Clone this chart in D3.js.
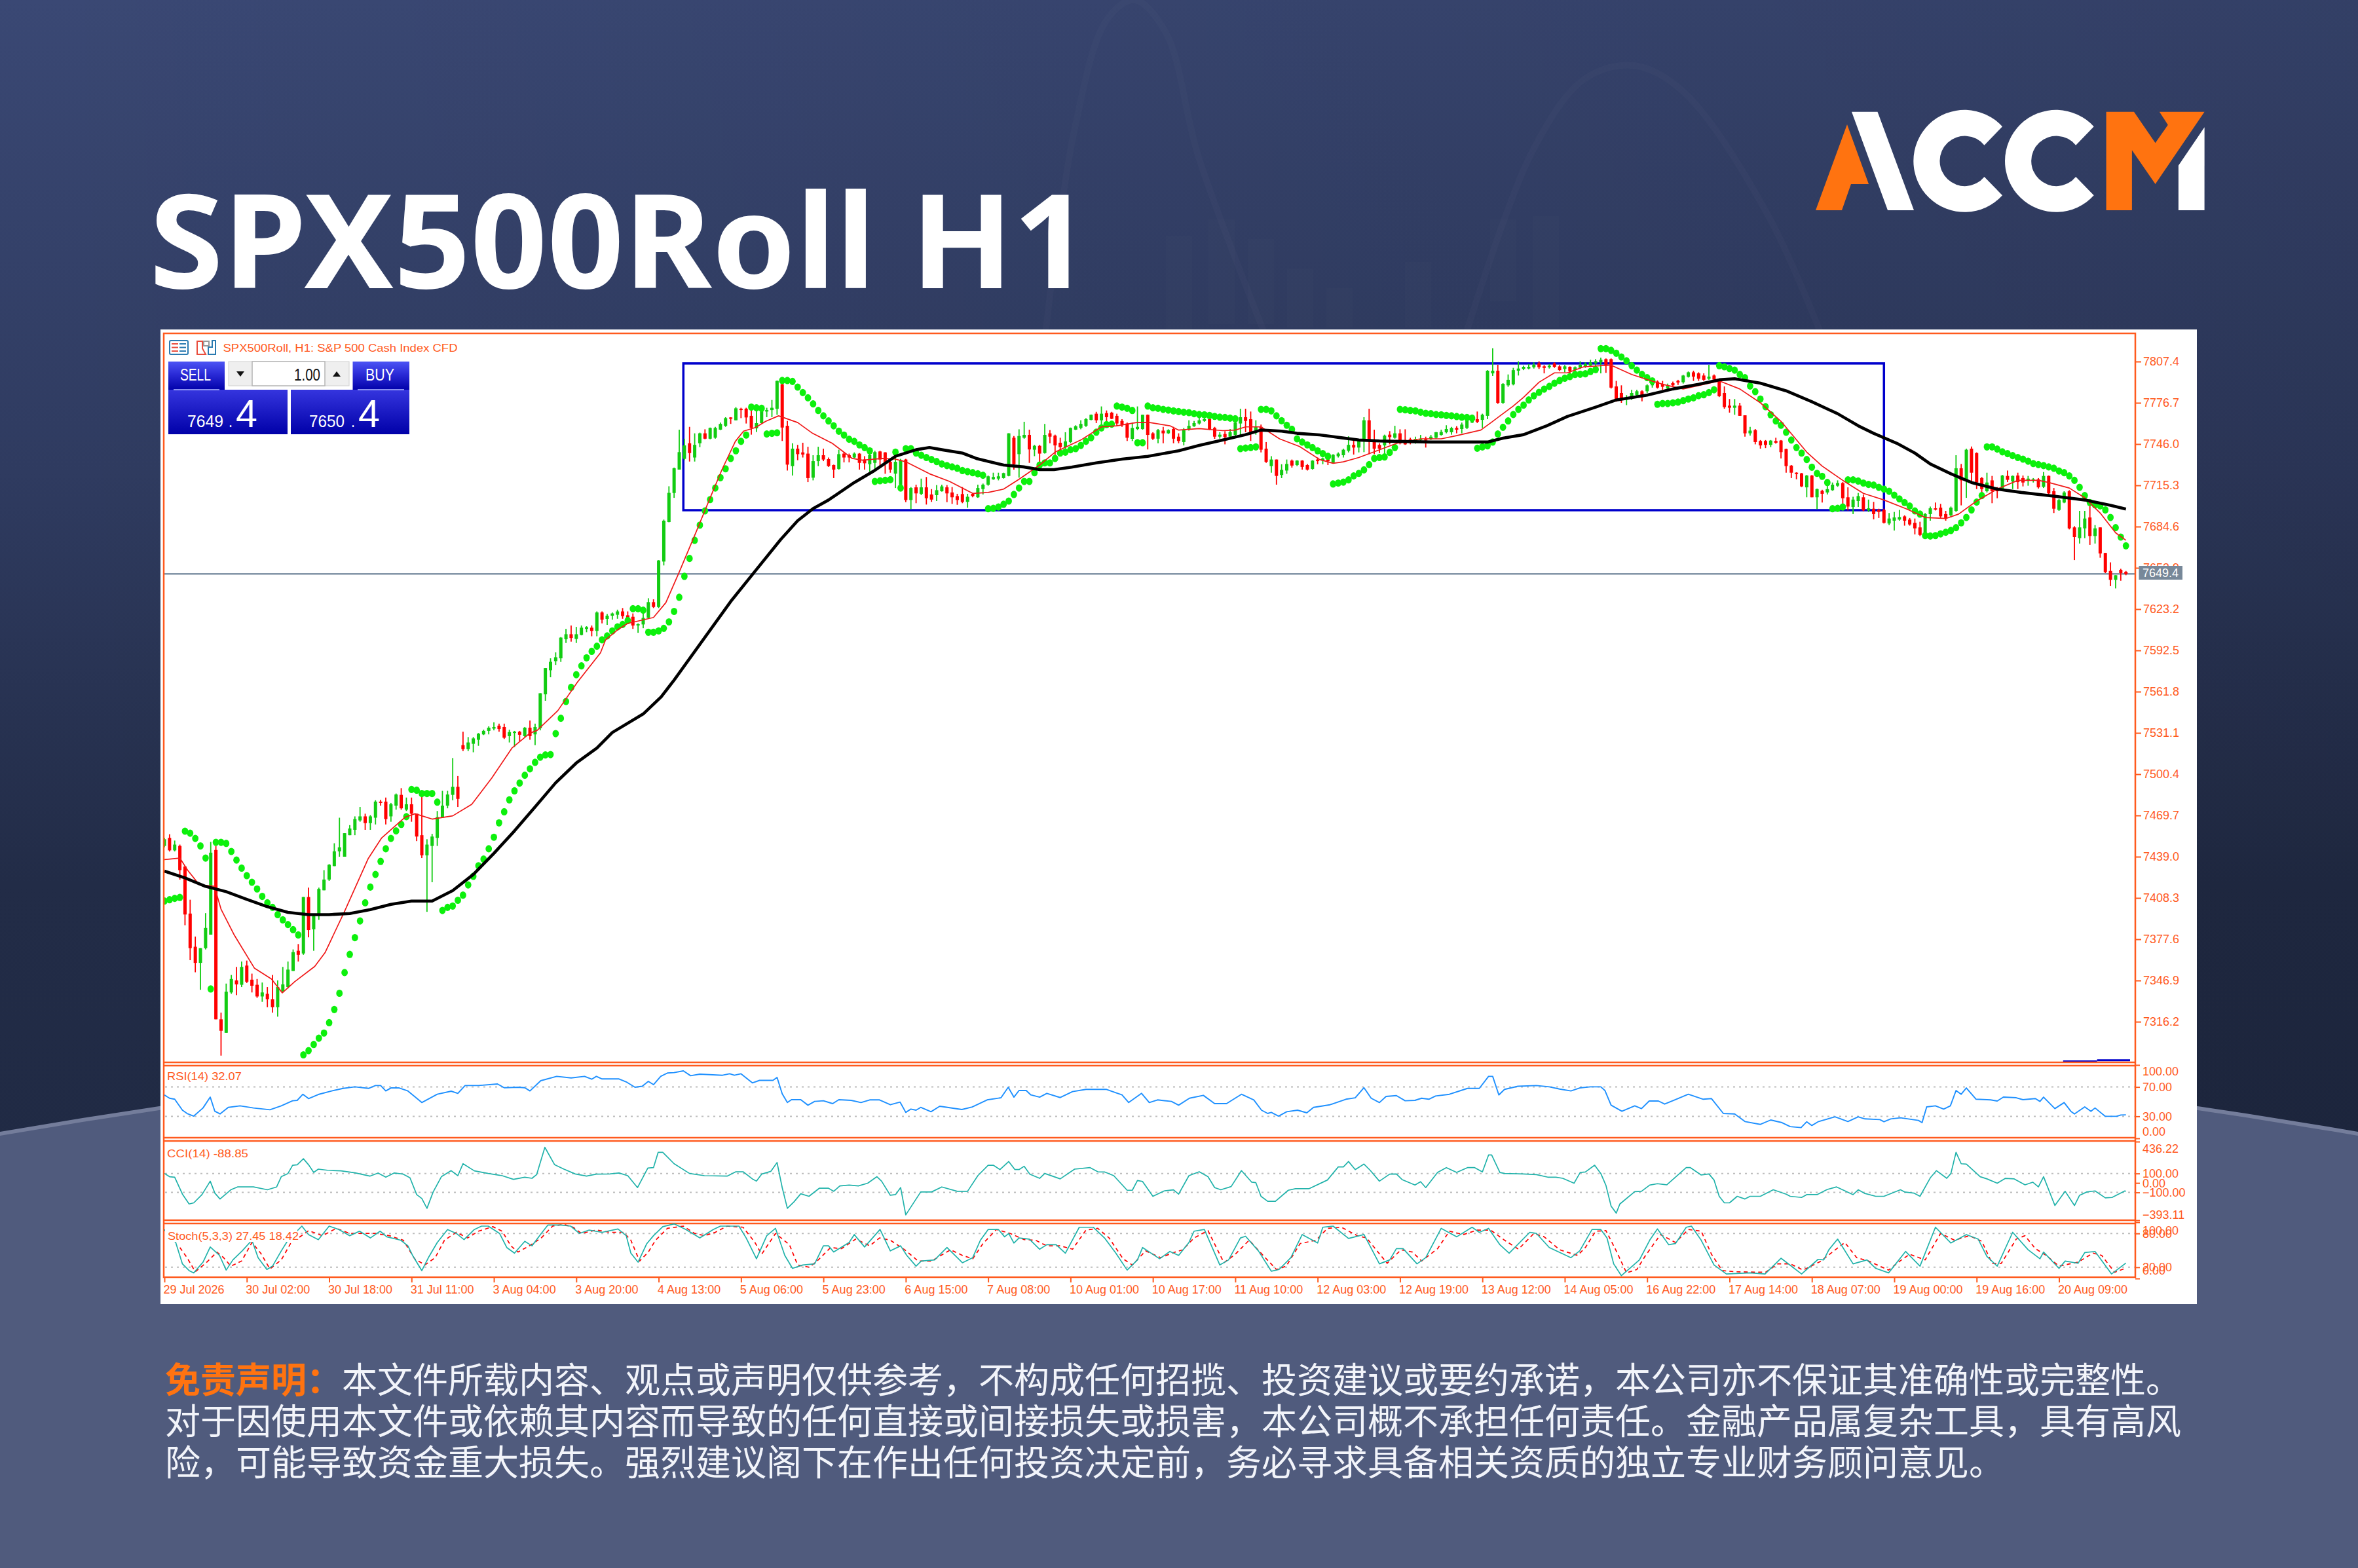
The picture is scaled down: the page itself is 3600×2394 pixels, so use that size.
<!DOCTYPE html>
<html>
<head>
<meta charset="utf-8">
<script src="https://cdn.jsdelivr.net/npm/d3@7"></script>
<style>
html, body { margin: 0; padding: 0; background: #2b3556; }
svg { display: block; }
text { font-family: "Liberation Sans", sans-serif; }
.domain { display: none; }
</style>
</head>
<body>
<svg id="chart" width="3600" height="2394"></svg>
<script>
// candles, one value per hour bar
var opens = [
7447,7453,7443.7,7447,7431.7,7396.7,7372,7360,7371,7381,
7444,7318,7308,7338,7347,7343.7,7358,7347.5,7343.7,7335,
7337,7333,7327,7339,7342,7354,7369,7367,7409,7385,
7395,7414,7422,7432,7443,7439,7455,7459,7466,7469,
7464,7468,7480,7480,7469,7477,7485,7474,7478,7471,
7455,7440,7447,7453,7468,7477,7485,7491,7522,7519,
7523,7526,7530,7532.6,7534.3,7536.5,7535.5,7528.7,7531.5,7532,
7528.7,7535,7530,7534.6,7559.8,7577.7,7584.5,7586.6,7600.8,7604.5,
7601,7604,7608.5,7609.4,7607,7620.7,7615.9,7618.3,7619,7621.5,
7618.6,7617.5,7611.5,7611.8,7616.7,7628.4,7624.8,7658.6,7688,7709.6,
7727,7735,7746.6,7736,7746.6,7754,7750,7750.7,7756.7,7759.6,
7765.8,7763.7,7772.3,7772.3,7767,7757.7,7761.6,7770.2,7771.3,7772.3,
7790.5,7759.6,7729.6,7742.6,7739.8,7738.9,7721,7733.3,7737.7,7734.8,
7730.4,7727.5,7738.9,7737.7,7736,7738.9,7734.5,7731,7732,7740.5,
7739.8,7732.8,7724,7715.8,7734.5,7704.4,7713.8,7709,7713.8,7708.5,
7708,7710.9,7713.8,7710,7707.3,7708.8,7703,7709,7706.4,7712.5,
7715.8,7719.8,7720.3,7720.7,7722.3,7750.7,7738.5,7750.7,7752.8,7741.8,
7744.7,7739.3,7754,7752.3,7747,7743.7,7747.5,7756.7,7758,7759.6,
7764,7768.6,7763.7,7769,7769.4,7767,7763.2,7761.3,7749.9,7757.2,
7757.2,7767.8,7754,7750,7756,7754,7757.2,7751.5,7747.5,7757.2,
7759.3,7761.3,7763.2,7764.7,7758,7751.5,7753.5,7751.5,7752.8,7761.3,
7766,7764.5,7756,7758.8,7742.6,7729.6,7734.5,7723,7726.3,7733.7,
7730.4,7733.7,7730.4,7727.5,7734.5,7733.7,7735.6,7732,7737,7737.7,
7741,7745.4,7743.4,7749,7763.7,7749,7745.4,7745,7753,7750.7,
7754,7749,7749.6,7748,7749,7749.6,7749.6,7750.7,7752.8,7754.8,
7754.8,7758,7757.2,7758,7762,7764.5,7764,7767,7798.6,7800.6,
7776.7,7789.7,7790.5,7800.6,7801.9,7802.2,7803.2,7806,7803.8,7803.2,
7806,7803.8,7801.9,7803.5,7801,7802.7,7803.5,7804.3,7806,7806.8,
7809.2,7809.2,7788.9,7784,7779,7780,7782.4,7785.3,7785.3,7789.7,
7792.5,7790.8,7787.3,7791.3,7793,7792,7796,7799.4,7798.6,7797,
7794.6,7797,7794.6,7784,7774.6,7773,7774.6,7767.4,7754,7756.4,
7748.3,7748.3,7745.4,7748.3,7748.6,7742.3,7730,7724.7,7724.2,7713.8,
7722.6,7706.4,7711.2,7710,7711.7,7715,7717,7706.4,7699.2,7703.6,
7706.4,7696.6,7697.9,7697,7697,7686.9,7689,7689.8,7692.2,7689.8,
7687.4,7684,7678.4,7693.9,7698.2,7698.7,7693.9,7693,7696.3,7728,
7719,7742.6,7739.3,7720.7,7710.9,7719,7712.5,7712.5,7722.3,7718.2,
7722.6,7720.7,7718.7,7719,7719.8,7714.2,7722.3,7710.9,7697,7702.5,
7710.9,7684,7676,7683.3,7691.4,7677.6,7684,7665,7651.6,7645,7652.4,7651];
var highs = [
7453,7455.7,7451,7448,7432,7407,7379.6,7371,7397,7450,
7447,7323,7344.6,7351,7357,7361,7361.7,7352,7348,7345.4,
7342,7351,7347,7357,7361,7370,7374,7409,7416,7395,
7416,7429,7433.5,7449,7468,7456.5,7462.5,7469,7476,7471,
7470,7481,7481.3,7483,7479,7486,7490,7483,7483,7471,
7484,7452,7456,7473,7488,7488,7512.4,7499,7532,7528,
7528,7531,7533.5,7536,7539,7538,7538,7533.5,7532.6,7532.6,
7535.5,7540.3,7538,7560.6,7579.3,7586.6,7591,7602.4,7608.5,7611,
7610,7611,7610.5,7611,7621.5,7621.5,7619.6,7620.7,7622.8,7624,
7621.5,7620,7612.6,7624,7631.3,7630.5,7659.7,7689.8,7714.6,7728.5,
7756.7,7750,7758.8,7754,7754.5,7757,7758.3,7758.8,7762,7766,
7766,7773.5,7773,7773,7774,7774.6,7774.6,7773,7778.8,7793.3,
7791.3,7763.2,7746.6,7745.4,7747,7744,7737.7,7744,7742.6,7736,
7730.7,7741.8,7740,7738.9,7739.8,7739.3,7737,7739.3,7741,7741,
7740,7735,7737.7,7735,7735,7714,7715.8,7720.3,7721.5,7712.5,
7715.5,7715.8,7715.5,7714,7709,7714,7709,7709.3,7715.8,7716.6,
7722.6,7724.7,7724.7,7724.7,7754,7752,7757,7762.6,7756.7,7745.4,
7745.4,7761,7756.4,7753,7750.7,7754.8,7758.3,7760,7763.7,7765.3,
7768,7770,7774,7771,7770,7768.6,7764.5,7762,7762,7774,
7767.8,7768,7754.8,7757.2,7758.8,7757,7758.8,7754,7758,7763.7,
7763.2,7767,7767.8,7764.8,7758.8,7754.8,7755.6,7757.2,7766,7772.3,
7772.3,7770.2,7763.7,7760.5,7747.5,7737,7734.5,7731,7734.5,7734.5,
7734,7734,7731.2,7734,7736,7736,7737,7738.5,7739.8,7742.6,
7751.8,7749,7749.6,7766,7772.3,7756.7,7746.6,7753,7755.6,7759.6,
7757,7757,7750.7,7751.5,7752.8,7751.5,7752.8,7755,7756.7,7760,
7758.8,7759.3,7762,7764.8,7767.8,7770.2,7768.6,7801,7817.3,7805,
7791.3,7797.8,7802.7,7807.6,7804.3,7805.5,7806.8,7807.6,7804.8,7805.5,
7806.8,7804.8,7804.8,7803.8,7803.8,7807.6,7806.8,7808.7,7809.2,7810.3,
7809.7,7809.7,7793,7789.7,7782.4,7786.4,7786.4,7786,7790.5,7793.4,
7793.4,7793,7791,7792.5,7793.8,7797.5,7800,7800.6,7799.4,7798.6,
7805,7797.8,7794.6,7788.9,7779.5,7779.5,7776.7,7767.4,7758.8,7757.2,
7749,7749,7749,7750.7,7749,7742.6,7730.4,7725,7724.5,7723,
7723,7712.9,7712,7719,7717.4,7719,7717.7,7713.8,7706.8,7709.6,
7708.5,7704.7,7703,7697.9,7697.9,7694.7,7695.5,7697,7693,7691,
7690.6,7688.2,7694.7,7699.5,7702.5,7701.5,7696.3,7699.5,7737.7,7731.2,
7742.6,7744.2,7739.8,7721.5,7724.7,7722.3,7714,7723,7726.3,7722.6,
7724.7,7722.6,7722.3,7720.7,7720.7,7725.2,7722.6,7713.3,7705.2,7710.9,
7711.7,7684.9,7696.3,7696.3,7702,7685.7,7684,7665,7658,7648.4,7653.2,7651.6];
var lows = [
7446,7442.9,7443,7422,7388,7362,7353,7340,7370,7381,
7318,7291,7308,7337,7336,7342,7345,7338,7334,7331,
7327,7323,7320,7338,7341,7354,7361,7366,7379,7369,
7392,7414,7421,7432,7439,7439,7455,7455,7465,7459,
7459,7463,7477,7463,7465,7474,7474,7473,7465,7450.6,
7438,7398,7420,7447,7468,7475,7481,7476,7517.6,7517.6,
7516.7,7521.5,7529.5,7530,7533,7532,7526.6,7524,7520.6,7525,
7528,7526,7522,7533,7555,7572.5,7581.7,7583.9,7598,7599,
7598,7603.7,7606,7603,7603,7612.6,7611.5,7615.4,7616,7616,
7612.6,7608.5,7605.6,7609,7615.9,7624,7624,7655.7,7687.8,7706,
7727,7734,7733,7733,7743.7,7749.6,7749.6,7750,7756.4,7758.8,
7761,7763.7,7765.3,7761.3,7753,7755,7761.3,7766,7766,7767.8,
7748.3,7726.3,7722.6,7734,7736,7717.7,7719,7729.6,7733.3,7729,
7720.7,7727,7732.4,7732.4,7735.6,7727,7727,7725.5,7727,7729.6,
7723.9,7724.7,7713.3,7710.9,7702.8,7697.6,7702,7708,7701,7703,
7703.6,7710.6,7702.8,7701.5,7700.8,7702,7698.7,7706.4,7706,7708.5,
7715,7719.4,7719,7720.3,7722,7727,7721,7750,7732,7737,
7732,7738.9,7746.6,7737,7738.5,7741.8,7746.6,7756.4,7757,7758.8,
7763.7,7761.6,7758,7762.9,7764.5,7759.6,7758.8,7748.3,7748.3,7756.4,
7756.7,7742,7749,7746.6,7746.6,7753.5,7746.6,7746.6,7745,7756,
7758.8,7760.5,7762.6,7756.4,7749.9,7750,7745.8,7750.7,7752.3,7752.3,
7754.8,7748.3,7753,7739.8,7732,7724.7,7715.8,7720.7,7723.9,7728.5,
7729.6,7727,7726.3,7727,7731,7731,7730.4,7731.7,7736,7736,
7739.8,7738.2,7739.8,7740,7738.5,7738.5,7739.3,7738.5,7745.8,7750,
7745.8,7745.4,7745.8,7746.3,7748.3,7743.4,7749,7750,7752.3,7754,
7753,7754,7754,7757.2,7761.6,7761.6,7758,7764.5,7796.7,7775.9,
7775.9,7788.6,7789.7,7797,7801,7801.6,7802.2,7801.9,7798.6,7802.2,
7802.7,7800.3,7799.4,7798.6,7798.6,7801.9,7802.7,7803.5,7803.5,7798.6,
7799,7787.3,7777.5,7776.7,7775,7778.8,7780.8,7777.8,7784,7788,
7787.3,7786.4,7786,7788.5,7790,7791,7795.5,7793,7793,7793,
7793.8,7792,7781,7772.3,7769.4,7767.8,7767,7751.5,7752.3,7745.8,
7742.6,7743,7743.7,7746.3,7735.3,7724.7,7720.7,7719.8,7714,7706.4,
7706.4,7697.6,7702.5,7708.5,7711.2,7714.2,7697.9,7696.6,7693.9,7699.2,
7696,7695.5,7690,7691,7686.9,7685.7,7681.7,7689,7685.3,7685.3,
7678.8,7677.6,7677.6,7689,7696.6,7690.6,7689,7691.4,7695.5,7700.4,
7706,7716.6,7712.5,7709.3,7710,7702,7705.7,7711.7,7717.7,7712.5,
7712.5,7714.5,7715,7717.4,7712.9,7713.3,7708.5,7694.7,7696.3,7702,
7682.5,7659.7,7672,7676,7671,7672,7661.4,7650,7640.3,7638.6,7644.3,7648.4];
var closes = [
7452,7443.7,7448,7429,7396,7371,7360,7371,7386,7442,
7318,7309.5,7338.6,7348,7344,7357,7346,7343,7335,7338,
7333,7327,7342,7344,7355,7368,7366,7409,7384.4,7395,
7415,7422,7433,7443,7446,7456.5,7460,7467,7469,7464,
7469,7480,7479,7467,7478,7485.3,7475,7478,7471,7454,
7440,7448,7454,7468.5,7477,7485.3,7491,7482,7519,7524,
7527,7530.5,7532.6,7535,7535.5,7534,7527.5,7531.7,7532,7529.7,
7535,7528.7,7535.5,7560.6,7579.3,7584,7587.4,7602,7604.5,7601.7,
7604.5,7609.4,7609.8,7607,7620.7,7615.4,7618.3,7620,7621.5,7618,
7616.7,7611,7612,7616.7,7628.4,7624.8,7659.4,7689,7709.7,7728,
7740,7745,7739.3,7745.4,7754,7750,7758,7758,7761,7765.3,
7764.8,7772.6,7771.3,7765.8,7758,7761.6,7774,7771.3,7773,7793,
7758.3,7730.7,7742.6,7738.5,7738.2,7720.7,7733.3,7737.7,7734.5,7729.6,
7727,7738.5,7736,7736,7738.9,7732,7731.7,7738,7740,7734.5,
7732,7727,7732.8,7734,7704.4,7713.3,7709.3,7713.8,7705.7,7704.7,
7711.7,7714.5,7709.3,7706.4,7704.4,7703,7706.8,7707.3,7713.3,7715.8,
7722,7721.5,7722,7724.4,7754,7731,7752,7752.8,7742,7744.7,
7738.9,7752.8,7751.5,7745,7743.7,7748,7758,7759.3,7761,7764.5,
7767.8,7763.7,7768.6,7766,7764.8,7761.3,7760.5,7750.7,7758,7758.8,
7767.8,7752.8,7750,7756.4,7754,7756.4,7750,7748.3,7756.4,7759.6,
7761.6,7763.7,7764.5,7756.7,7751.5,7753,7751.2,7754.8,7762,7766,
7763.2,7754,7758.8,7741.8,7732.8,7734.5,7722.3,7726.8,7731.2,7730,
7733.7,7729,7727,7733.7,7733.3,7735.3,7733.3,7738,7738.9,7741.8,
7745.4,7743.4,7749,7763.7,7748.3,7742.6,7742.6,7752.3,7751.2,7754,
7746.6,7745.8,7748,7749.9,7749.9,7748.6,7751.5,7754.8,7755,7757.2,
7758,7756.7,7760.5,7764.5,7765.3,7762.6,7767.8,7800.6,7800.6,7776.7,
7790.8,7793.8,7801,7802.2,7803.5,7803.5,7805,7803.2,7802.7,7804.3,
7803.5,7801,7803.8,7800.3,7803.2,7805,7805.5,7806.8,7807.6,7808.7,
7804.3,7788,7779,7779,7780.4,7784,7785.3,7780.8,7789.7,7793,
7788,7788.6,7789.7,7789.7,7791.8,7797,7799.4,7796.2,7794.6,7793.8,
7796.2,7794,7781.6,7773.5,7773,7774.6,7767,7754,7756,7747.5,
7745,7745.4,7748.6,7747,7740,7729.6,7724.7,7723.9,7714.5,7722.6,
7706.4,7712.5,7709,7712.5,7715.8,7717,7705.7,7699.5,7704.7,7707.3,
7696.6,7698.2,7693.9,7695.5,7687.4,7690.6,7691.4,7691.7,7689,7686.2,
7683.3,7678.4,7693.9,7698.2,7697.6,7692.2,7691,7698.7,7728,7719,
7741.8,7724.7,7717.4,7712.5,7717.4,7710.9,7710.9,7722.6,7719.4,7722.3,
7717.7,7717.4,7720.3,7719.8,7713.8,7722.3,7709.3,7697.9,7704.4,7710,
7683.3,7676.8,7684,7690.6,7677.6,7683.3,7664.6,7650.8,7645,7648.4,7650,7649.4];

// parabolic sar, one dot per bar
var sar = [
7406,7407,7408,7408.7,7458,7456.5,7452.6,7447,7438,7340.6,
7449.7,7449.7,7448.9,7442.9,7436.5,7430.5,7424.9,7420,7415,7409.5,
7404.7,7401.3,7395.9,7392,7388.5,7384.7,7380.8,7291.6,7294.7,7299.3,
7304,7307.8,7315.5,7325.3,7337.4,7352.8,7366.3,7378.8,7391.2,7404.7,
7416.4,7425.8,7435.5,7444.9,7452.6,7458.2,7463,7468.8,7489,7488.5,
7486,7486,7486,7479.6,7399,7401.3,7402.3,7406.6,7410.4,7418,
7424.4,7432.3,7437.2,7444.9,7453.5,7464.2,7472.4,7481.3,7488,7493.8,
7499.6,7504.4,7509.2,7513,7514.7,7515,7530.6,7542,7554.5,7565,
7574.4,7581,7587,7591.8,7595.6,7600.4,7603.3,7607,7610,7611.8,
7614.7,7623.5,7623.5,7622.4,7606,7606,7607,7608.9,7613.7,7621.5,
7632,7647.6,7660.9,7674.4,7685.7,7696.3,7704.7,7713.3,7721,7727.6,
7735.3,7741,7748,7752.7,7773.5,7773,7772.6,7753.5,7754,7754.4,
7793.3,7793.3,7792.6,7788.4,7784.3,7780.4,7775.9,7771,7767,7763.2,
7759.6,7755.6,7752.7,7749.6,7748,7745.4,7743.4,7741,7718.2,7718.7,
7719,7719.5,7740,7713.3,7742.6,7742.6,7739.3,7737.7,7736,7734.5,
7733,7731.2,7730,7729,7728,7726.3,7725.5,7724.7,7723.9,7722.8,
7697.9,7698.2,7699.2,7701.2,7703.6,7708.5,7713.3,7718.2,7718.2,7724.7,
7730.4,7732,7732,7735.3,7739.3,7740,7741.8,7742.6,7745,7748,
7750.7,7754.8,7758,7760.5,7760.8,7774.3,7773.5,7772.6,7771,7747,
7747,7774.3,7773,7772.6,7771.8,7771.3,7770.7,7770.2,7769.7,7769.4,
7768.6,7768,7767.8,7767.3,7766.6,7766,7765.8,7765.3,7764.8,7742.6,
7743,7743.4,7743.9,7771.8,7771.8,7770.7,7767,7763.4,7760,7757,
7749.9,7747.5,7745.4,7743.4,7741,7738.9,7736.9,7716.3,7717,7717.7,
7719.4,7722.3,7724.2,7726.8,7730.7,7735.3,7736,7736.4,7739.8,7743.4,
7771.8,7771.5,7771,7770.7,7769.7,7768.9,7768.6,7768,7767.8,7767.3,
7767,7766.5,7766,7765.8,7765.3,7742.9,7743.9,7744.7,7747.5,7753.5,
7758.5,7763.2,7768,7771.8,7775,7778.8,7781.9,7784.5,7786.9,7788.9,
7791.3,7793.3,7795,7796.2,7797.8,7798,7798.3,7800,7801.4,7817,
7817,7815.7,7813.6,7810.8,7807.9,7804.3,7801,7797.8,7795.4,7793,
7775.6,7776.2,7776.2,7776.7,7777.2,7778.3,7779.5,7780.4,7782,7782.7,
7784.3,7786.4,7804.3,7803.5,7802.2,7801,7797.8,7795.4,7789.2,7785,
7779.5,7773.8,7767.8,7763.2,7760,7754.8,7749,7743.4,7739.3,7734.5,
7728.8,7724.2,7722,7717.4,7697.9,7698.2,7699.2,7719.4,7719.4,7718.5,
7717,7716,7715.5,7713.8,7712.5,7710.9,7708,7705.2,7702.5,7699.9,
7696.3,7693.9,7677.9,7677.6,7677.9,7679.2,7680.4,7681.7,7683.8,7687.4,
7691.4,7697,7702.8,7707.7,7743.9,7743.9,7742.3,7740.2,7738.9,7737.4,
7736,7734.8,7733.3,7731.5,7730.7,7730,7729,7728,7726,7724.7,
7722.3,7719,7713.8,7707.7,7702.5,7700.8,7700,7697,7691.4,7683.8,7676.8,7670.3];

// slow moving average, read at these bars
var maBars = [0,4,8,12,16,20,24,28,32,36,40,44,48,52,56,60,64,68,72,76,80,84,87,93,96.5,99,110,114.6,119.7,123,126,129,134,137.6,142,146,148.6,151,155,157.7,163,166.9,170,172.8,176.2,181,186,191,197,201,205.6,210,213,217,220,224.4,228.6,232,236,239.4,246,257,260,264,268.5,272.5,278,282,288,293,298,302,305,310,315,320,325,329,332,336.5,340,343,347,351,356,360.7,367,373,378,381];
var maValues = [7428.3,7423.2,7416.9,7413,7407.3,7401.8,7397.6,7395.9,7395.9,7396.7,7399.6,7403.5,7406,7406,7413.8,7425.8,7441.5,7458.2,7476,7494,7508.7,7519.8,7531.4,7545.2,7558,7570.4,7628.9,7650.8,7675,7689,7698,7704.4,7717.4,7725.5,7736.9,7741.8,7743.4,7741.8,7739.3,7735.3,7730.4,7729,7727,7727,7728.8,7732,7734.8,7736.9,7741,7745,7749,7753,7756.4,7755.6,7754,7752.8,7750.7,7749,7748.3,7748,7747.5,7747.5,7750.4,7753,7759.6,7766.5,7773.5,7778.8,7782.4,7787,7790.5,7793.8,7794.6,7791.3,7785.6,7777.5,7768.6,7759.6,7754,7746.6,7739.3,7731.2,7723.9,7717.4,7712.5,7710,7707.3,7704.4,7700.4,7697.6];

// fast moving average, read at these bars
var fastBars = [0,3,4.5,6.8,9.7,11,13.6,17.5,20.8,22.9,25.3,29.2,31.2,35,39.6,42.2,46.8,48.7,52,56,59.7,63.6,67.5,71,72.4,76.4,80.2,84.7,85.7,88,90,91.3,95,97.4,100,103.4,106,108.3,110.9,112.5,114.8,116.8,119.3,123,125.9,129.7,133.6,135.6,139.5,142,144,148.6,152.5,157,160,163,166,170,173,178,182,185,188.8,191.4,195.3,197,201,205.6,208,210,213,216.6,220.5,224.4,227,229,232,235.5,239.4,244,248,251,255.7,258,262,264,267,270,272.5,275.7,280.9,285,288,291,295,302,306,310,314,319,322,326,330,334,338.3,342,346,348.5,352,356,360,364,366,370,373,376,379,381];
var fastValues = [7436.9,7438,7429,7418,7417,7400,7380.5,7356,7348,7337.7,7346,7357.4,7367.6,7398.4,7437.7,7453,7468.5,7471,7467,7469.4,7478,7497.6,7519.8,7530.9,7533,7547.6,7568.7,7590.7,7600.4,7607.7,7612.6,7613.7,7617,7628,7650.8,7681.7,7706,7727,7748,7755.6,7758.3,7762.9,7767,7762,7754,7746.6,7735.3,7734,7735.3,7734.8,7732.8,7723.9,7718.2,7709.3,7710,7712.5,7719.8,7730.4,7740,7749,7758.8,7759.6,7762,7762,7759.6,7756.4,7757.5,7756,7756.4,7758.8,7758.8,7749.9,7744.2,7734.5,7731.7,7732.8,7736,7741,7746.6,7749.9,7749.9,7752.3,7756.4,7762.9,7774.3,7780.8,7792,7799,7799,7803.5,7804.8,7797.8,7794,7790.5,7787,7793,7787,7776.7,7762.9,7740,7729.6,7719,7709.3,7704.4,7697.9,7691.4,7690.6,7693.9,7703.6,7712.5,7719,7719,7717.4,7713.3,7706,7694.7,7680,7674.4];

// rsi(14)
var rsiBars = [0,1,2,3.5,4.4,5.7,7.5,8.9,9.8,10.8,12.4,14.7,17.3,20.5,22.7,24.9,25.8,26.9,28,29.9,32.5,34.7,37,39.7,41,42,43,44,45.6,47.3,50,53,55.7,57,58.4,61,64.7,66,68.7,70,71,73.1,76.2,79,81.6,83,83.9,85,88.3,89.7,91.4,92.8,94,95,96.4,97.7,99,100.8,102.2,104,108.4,109.8,110.7,112,114.2,115.6,118.2,119,120,121,121.8,123.6,125,126.3,128,129.8,131,133.4,135.3,137,138.9,141,142.9,144,145,146,146.9,148.9,150.6,154.9,156.9,159.8,162.5,163.9,165,166,167.4,168.3,170,171.4,174,176.4,179,183,184.8,186,187.3,189.8,191.3,192.9,195.6,197,199.1,201.8,204,206.3,209.2,211.6,213.1,214.3,215,216.4,218,220.1,221.9,223.2,226.4,229.5,231.3,233,234.4,236,237.3,239.3,241,242.9,244.2,245.6,246.9,249.6,253.1,255.4,257.2,258,259.2,260.3,262.9,266.5,269,271,273.2,274.9,277,279,279.8,281,283.1,285.6,286.9,288.4,290.2,291.4,293.5,296,298.9,300.5,302.8,305,307,310,312,314.2,315.8,317.9,319,320,321.2,324.5,327,329,330.3,333.2,334,335.3,337.2,340.7,341.4,342.3,344,345.6,346.9,348,349,350,351.9,354.7,356,357.2,359.7,361,363.4,364.3,365,367.2,369,370.3,371,373,374.2,375,377,379.2,380,381];
var rsiValues = [59,54.7,53.3,38.4,33.9,30.3,41.4,56.2,36.9,33.3,42.2,44.3,41.4,39,44.3,51.2,51.8,60.1,54.2,59.8,64.6,68.1,70.2,68.1,72,72,64.6,68.7,68.7,64.6,48.8,60.1,64.3,61.3,72,72,74.1,69,69.6,69,64.6,78.6,84.5,82.4,84.5,80.6,84.5,81,81,77,69.6,71,77.7,73.2,84.5,89,89.6,92,85.4,87.5,86,88,86,88,75.6,79,79,83,60.7,48.8,52.7,52.7,45.2,50.3,51.2,47.3,52.7,51.8,48.8,52.4,52.4,45.8,49.4,35.4,39.9,38.4,42.2,36.3,43.7,39.3,42.8,52.4,55.3,69.6,56.2,65.2,65.2,59.2,56.2,61.3,55.6,63.7,66.7,66.7,62.2,59.2,48.8,61.3,48.8,52.4,50.3,45.2,54.7,58.6,47.3,47.3,60.1,52.4,38.4,33.9,35.4,30.3,36.3,38.4,34.8,42.2,45.8,53.3,55.3,69,54.7,48.8,57.1,58.3,51.2,51.8,54.7,53.3,57.7,60.1,68.1,68.1,84.5,84.5,59.2,66.7,71,72,70.2,67.2,64.6,68.7,70.2,70.2,65.2,45.2,36.9,44.3,40.5,50.9,50.9,46.7,52.7,60.1,53.3,54.2,33.9,33.3,22.9,19,25,21.4,16,14.6,22.6,17.5,22.6,29.4,22.9,29.4,26.5,25.6,22.6,26.5,28,24.4,21.4,42.8,44.3,39.9,44.3,65.2,60.1,68.7,53.3,52.4,50.9,56.2,55.3,52.7,54.2,50.3,56.2,40.5,48.8,36.9,33.3,42.8,36.9,41.4,30,30,31.8,32.07];

// cci(14)
var cciBars = [0,1,2,3.5,4.8,5.7,7.3,8.9,9.8,10.8,12.9,14.2,17.3,20,21.8,22.7,24,24.9,25.8,27,28,29,29.9,31.7,34.3,37,39.9,41.5,43,44.6,46.4,47.7,49,50,51,52.2,53.8,55.7,57,58,60.2,62.9,65.6,67.8,70,71.4,72.3,73.9,75.8,77.6,79.8,82,83.9,86.5,88.3,90,91.9,93.9,95,95.9,96.8,99,102,104.9,109.3,111,112.4,114.2,115,116,117.8,119,120,121,122.3,123.6,125.2,127.2,129,130,131.2,133,134.8,136.6,138.4,139.3,141,142,143,144,146.9,149,151,154,156,158,160,161,162.3,164,165.2,166,167,168.1,170,171,174,176.8,179.8,181.3,182.6,184.4,187,188,189,190,192,194.2,196,197,199,201,202.7,204,205.2,207.2,209.2,211.2,212,213,214.3,215.8,218.3,219.7,222.3,225.9,228,229,230,231.3,233,234.2,236,238,239.3,240.4,242.9,244,245,247.3,249,251,253.1,254.5,256,257.2,257.8,259.4,260.3,263.9,266.5,268.7,270.3,271.6,273.8,275,276,277.8,279,280,281,282,282.7,285.6,286.9,288.5,290,291.8,295.6,296.4,298.5,300,301,302,303,304,305.5,307,308,310,312.5,315,315.8,318,319,321,323,324.8,328,329,330.3,332.4,334,337.2,338,339.8,341,343,344.2,346.2,347,348,349,350,352.7,354,356,357.6,359.3,361.4,362.9,364,365,367.2,369.2,371,372,373.4,375,377,378.3,380.8,381];
var cciValues = [100,66,61,-118,-222,-210,-123,19,-107,-169,-72,-42,-42,-72,-42,66,100,187,192,256,192,111,146,134,128,107,72,105,61,105,93,54,-123,-164,-268,-95,66,130,77,203,128,100,77,38,61,49,88,376,192,146,95,72,93,95,105,77,-49,157,162,323,323,203,100,77,72,118,118,43,19,93,123,215,-49,-268,-199,-114,-141,-56,-56,-88,-31,-22,-31,-3,66,19,-130,-123,-49,-337,-95,-95,-42,-88,-88,77,187,187,141,226,141,141,176,93,49,100,43,146,162,118,116,77,-77,-77,26,15,-141,-84,-72,-118,77,118,66,-49,-72,-38,130,8,3,-141,-194,-194,-77,-61,-61,31,169,169,226,141,199,134,19,93,95,36,-22,13,-49,111,162,111,162,162,116,295,295,111,100,95,88,61,61,49,-3,111,116,187,100,-26,-245,-318,-222,-91,-88,-22,-8,-20,162,162,84,95,31,-141,-210,-210,-141,-169,-141,-141,-72,-118,-141,-153,-123,-123,-68,-42,-123,-72,-111,-141,-141,-72,-95,-107,-141,54,130,49,100,323,203,199,66,43,-3,49,43,-20,8,-42,66,-238,-88,-238,-130,-95,-84,-157,-153,-84,-88.85];

// stochastic %K
var stochBars = [0,0.8,2.2,3.5,4.8,5.7,7.5,8.9,10.7,12,13.3,15.1,17,18.2,19.9,21,22.7,24,26.7,28,29.9,32,33.9,36,37.9,40,41.9,43.2,45.9,47.3,48.2,50,51.4,53,55,56.7,58.2,60.2,61.6,62.9,65.1,66.5,68,70,71.4,73.2,74.5,77,78.9,80.6,82.5,85,88.1,89.7,90.6,92,93.7,95,96.8,99,101.3,104,106.6,108,111.6,113,115,117,118.7,120.5,122,124,126.3,128,129,130,133,134,136,139,141,143,144.2,146,147,149.6,152,155,157,158.5,160,162,163.2,164,165,166,168,170,171.4,173.2,175,177.7,180.4,182.6,184.8,187,189,190,193.3,195.3,197,199,200,202,205,206.7,209,210,212.5,215,216.5,218.8,221,224,225,227,230,233,236,238,239.3,240.6,243.3,245,248,251,254,255.4,257.2,259.4,261.2,265.2,266.5,269,273.2,274.9,277.3,279,280.2,281.5,283,286.5,288.5,290,292.2,293.5,295.6,296.6,298.5,301,303.4,308,310.9,314,318,321.2,322.3,323.3,325,328,330.7,332.4,334.9,338.2,341,344,347,350,352.3,354,356,359,362,364.3,365,368,369.2,371.7,373,375,378.2,381];
var stochK = [87,76,64,26,14,10,29,56,41,15,33,49,68,37,16,22,49,68,93,78,69,93,87,76,84,72,84,74,68,58,41,14,39,64,87,80,69,87,93,93,80,55,45,66,58,80,95,95,93,80,86,82,88,76,45,29,62,76,92,97,87,72,87,93,93,72,35,76,89,41,18,24,26,58,58,47,64,78,56,87,49,58,41,22,31,33,55,28,37,68,87,87,74,80,63,72,70,52,60,60,45,91,91,72,45,15,33,55,35,48,41,64,84,87,24,33,72,75,49,13,16,37,78,63,91,93,71,78,26,33,53,53,26,37,89,74,91,82,89,60,45,82,80,55,37,49,87,87,72,26,5,33,68,88,60,62,91,93,68,24,8,10,8,36,8,34,33,51,70,26,33,18,10,48,22,91,63,78,70,39,22,82,51,35,47,18,31,27,46,48,8,27.45];

// stochastic %D (signal)
var dBars = [3,4.4,6,8,10.2,11.5,12.9,15,17,18.7,20.5,22.7,24.5,28,30.7,33.4,36,38.3,41,43.7,46.4,48.6,50.6,52.6,54.4,56.7,58.9,61,63.8,65.6,67.3,68.7,70.9,73.2,75.4,77.6,79.4,81,83.9,86.5,89.2,90.6,92.3,94,95.4,97.7,100.8,103,104.9,107,109.3,112.4,114.7,116,118.7,121.4,123,125.3,127,129.4,131.5,134.3,137,138.9,141,143.8,146.4,149,152.7,155,157,159,161.6,164.3,167,169.2,171.4,174,176.4,179,181.3,183.5,186.2,188,190.6,193.5,196,197.8,200,202.7,205.8,208,210.7,213.4,216,217.9,220.6,223.7,225.9,228.6,231.7,233.5,237.5,240.2,242.4,244.2,247.3,249.6,252.3,255,257.6,260.3,263,266,268,271,274.5,276,278,280,282,284,286,287.7,290.6,293.5,296,298.5,300.5,302.6,305,311,313.4,315.8,318.3,321.6,324,326.4,328.7,331,334.9,337.4,339,342,345,347.7,350.6,353,355,356.8,359.7,361.4,363.4,365.5,368,371.7,374.6,376.3,378.8,381];
var dValues = [55,37,12,27,47,37,22,31,64,45,17,33,62,85,76,89,80,80,80,76,68,35,24,37,68,82,72,84,92,84,58,47,58,72,93,96,91,80,86,82,82,68,31,47,68,89,93,80,76,82,93,91,64,43,80,60,24,20,33,55,53,70,58,72,68,51,31,31,51,41,35,62,87,80,69,68,58,58,52,86,89,72,35,24,49,37,46,51,72,85,28,43,68,41,16,22,62,68,89,91,76,72,27,51,47,31,53,84,78,86,86,68,52,80,74,51,41,55,84,85,49,10,16,41,78,64,87,84,43,14,12,11,26,26,15,30,47,64,37,31,15,33,43,33,80,68,76,66,27,27,70,76,53,41,22,29,45,41,11,18.42];

// other series and axis values
var priceTicks = [7807.4,7776.7,7746.0,7715.3,7684.6,7653.9,7623.2,7592.5,7561.8,7531.1,7500.4,7469.7,7439.0,7408.3,7377.6,7346.9,7316.2];
var lastPrice = 7649.4;
var boxBars = [100.8, 334];
var boxPrices = [7806, 7696.8];
var levelBars = [368.8, 375.4, 381.8];
var levelPrices = [7287, 7287.6];
var rsiTicks = [100,70,30,0];
var rsiLevels = [70,30];
var cciTicks = [436.22,100,0,-100,-393.11];
var cciLevels = [100,-100];
var stochTicks = [100,80,20,0];
var stochLevels = [80,20];
var timeLabels = ["29 Jul 2026","30 Jul 02:00","30 Jul 18:00","31 Jul 11:00","3 Aug 04:00","3 Aug 20:00","4 Aug 13:00","5 Aug 06:00","5 Aug 23:00","6 Aug 15:00","7 Aug 08:00","10 Aug 01:00","10 Aug 17:00","11 Aug 10:00","12 Aug 03:00","12 Aug 19:00","13 Aug 12:00","14 Aug 05:00","16 Aug 22:00","17 Aug 14:00","18 Aug 07:00","19 Aug 00:00","19 Aug 16:00","20 Aug 09:00"];

var orange = "#ff5a1e";
var svg = d3.select("#chart");
var defs = svg.append("defs");

function gradient(id, stops, horizontal) {
  var g = defs.append("linearGradient").attr("id", id)
    .attr("x1", 0).attr("y1", 0).attr("x2", horizontal ? 1 : 0).attr("y2", horizontal ? 0 : 1);
  stops.forEach(function(s) {
    g.append("stop").attr("offset", s[0]).attr("stop-color", s[1]).attr("stop-opacity", s[2] === undefined ? 1 : s[2]);
  });
}
gradient("bgV", [[0,"#3a4874"],[0.4,"#2f3b60"],[0.75,"#222c47"],[1,"#202a44"]]);
gradient("bgH", [[0,"#000",0],[1,"#000",0.12]], true);
gradient("tile", [[0,"#4c54f4"],[0.45,"#2a2ad6"],[1,"#0000a8"]]);
gradient("tile2", [[0,"#3535de"],[1,"#0000a8"]]);
defs.append("clipPath").attr("id", "clipPrice").append("rect").attr("x", 250).attr("y", 509).attr("width", 3010).attr("height", 1113);

// background
svg.append("rect").attr("width", 3600).attr("height", 1800).attr("fill", "url(#bgV)");
svg.append("rect").attr("width", 3600).attr("height", 1800).attr("fill", "url(#bgH)");

// faint decoration behind the title row
var deco = svg.append("g").attr("fill", "none").attr("stroke", "#fff").attr("stroke-opacity", 0.018).attr("stroke-width", 10);
var decoLine = d3.line().curve(d3.curveCatmullRom);
deco.append("path").attr("d", decoLine([[1595,520],[1640,200],[1690,30],[1732,0],[1780,50],[1830,240],[1935,520]]));
deco.append("path").attr("d", decoLine([[2235,520],[2340,230],[2420,120],[2495,100],[2570,140],[2700,330],[2800,560]]));
[[1780,360,40,150],[1845,335,40,160],[1905,365,40,130],[1965,410,40,90],[2025,440,40,60],[2145,400,40,100],[2275,335,40,125],[2340,330,40,170]].forEach(function(r) {
  svg.append("rect").attr("x", r[0]).attr("y", r[1]).attr("width", r[2]).attr("height", r[3]).attr("fill", "#fff").attr("opacity", 0.012);
});

// lower band, the outline runs past the page so only the arc shows
svg.append("path").attr("d", "M-40,1738 Q1800,1414 3640,1738 L3640,2440 L-40,2440 Z").attr("fill", "#505b7d").attr("stroke", "#747d9b").attr("stroke-width", 6);
svg.append("rect").attr("x", 0).attr("y", 1800).attr("width", 3600).attr("height", 594).attr("fill", "#505b7d");

// title
svg.append("text").attr("x", 228).attr("y", 440).attr("fill", "#fff")
  .attr("textLength", 1436).attr("lengthAdjust", "spacingAndGlyphs")
  .style("font-family", "'Noto Sans'").style("font-weight", 700).style("font-size", "199px").text("SPX500Roll H1");

// logo
var logo = svg.append("g");
logo.append("path").attr("fill", "#ff7310").attr("d", "M2772,321 L2820,190 L2853,281 L2826,281 L2812,321 Z");
logo.append("path").attr("fill", "#fff").attr("d", "M2827,170.7 L2866.5,170.7 L2922,321 L2882,321 Z");
[0, 139.7].forEach(function(dx) {
  logo.append("path").attr("fill", "#fff").attr("transform", "translate(" + dx + ",0)")
    .attr("d", "M3057,193.3 A78,78 0 1 0 3057,298.3 L3029.5,270 A38.3,38.3 0 1 1 3029.5,221.7 Z");
});
logo.append("path").attr("fill", "#ff7310").attr("d", "M3215.6,170.7 L3258,170.7 L3290.6,218.3 L3309.8,190.7 L3296.9,170.7 L3365.6,170.7 L3290.6,281 L3254.9,229.3 L3254.9,321 L3215.6,321 Z");
logo.append("path").attr("fill", "#fff").attr("d", "M3365.6,194.3 L3365.6,321 L3325.9,321 L3325.9,252.7 Z");

// white screenshot panel
svg.append("rect").attr("x", 245).attr("y", 503).attr("width", 3109).attr("height", 1488).attr("fill", "#fff");

// scales
var x = d3.scaleLinear().domain([0, 381]).range([251, 3245.7]);
var y = d3.scaleLinear().domain([7807.4, 7316.2]).range([552, 1560]);
var yRsi = d3.scaleLinear().domain([0, 100]).range([1738, 1626]);
var yCci = d3.scaleLinear().domain([436.22, -393.11]).range([1743, 1863]);
var yStoch = d3.scaleLinear().domain([0, 100]).range([1952, 1866]);

var price = svg.append("g").attr("clip-path", "url(#clipPrice)");

// last price line
price.append("line").attr("x1", 250).attr("x2", 3260).attr("y1", y(lastPrice)).attr("y2", y(lastPrice))
  .attr("stroke", "#8496a8").attr("stroke-width", 2.5);

// blue rectangle object
price.append("rect").attr("x", x(boxBars[0])).attr("y", y(boxPrices[0]))
  .attr("width", x(boxBars[1]) - x(boxBars[0])).attr("height", y(boxPrices[1]) - y(boxPrices[0]))
  .attr("fill", "none").attr("stroke", "#0000cc").attr("stroke-width", 3.5);

// little blue levels at the bottom of the price window
levelPrices.forEach(function(p, i) {
  price.append("line").attr("x1", x(levelBars[i])).attr("x2", x(levelBars[i + 1]))
    .attr("y1", y(p)).attr("y2", y(p)).attr("stroke", "#0000cc").attr("stroke-width", i + 2);
});

// candles
var candle = price.selectAll("g.candle").data(d3.range(opens.length)).enter().append("g").attr("class", "candle")
  .attr("fill", function(i) { return closes[i] >= opens[i] ? "#12cc12" : "#ff0000"; });
candle.append("rect").attr("x", function(i) { return x(i) - 0.9; }).attr("width", 1.8)
  .attr("y", function(i) { return y(highs[i]); })
  .attr("height", function(i) { return y(lows[i]) - y(highs[i]); });
candle.append("rect").attr("x", function(i) { return x(i) - 2.5; }).attr("width", 5)
  .attr("y", function(i) { return y(Math.max(opens[i], closes[i])); })
  .attr("height", function(i) { return Math.max(2, Math.abs(y(closes[i]) - y(opens[i]))); });

// sar dots
price.selectAll("ellipse.sar").data(sar).enter().append("ellipse").attr("class", "sar")
  .attr("cx", function(d, i) { return x(i); }).attr("cy", function(d) { return y(d); })
  .attr("rx", 4.9).attr("ry", 5.6).attr("fill", "#0cf00c");

function drawLine(parent, bars, vals, yScale, color, width, dash) {
  var line = d3.line().x(function(d) { return x(d); }).y(function(d, i) { return yScale(vals[i]); });
  var p = parent.append("path").attr("d", line(bars)).attr("fill", "none")
    .attr("stroke", color).attr("stroke-width", width).attr("stroke-linejoin", "round");
  if (dash) p.attr("stroke-dasharray", dash);
  return p;
}

drawLine(price, fastBars, fastValues, y, "#f01818", 1.7);
drawLine(price, maBars, maValues, y, "#000", 4.6);

// frame
var frame = svg.append("g").attr("stroke", orange).attr("stroke-width", 2.5).attr("fill", "none");
frame.append("rect").attr("x", 250).attr("y", 509).attr("width", 3010).attr("height", 1441);
[1622, 1627, 1737, 1742, 1863, 1868].forEach(function(v) {
  frame.append("line").attr("x1", 250).attr("x2", 3260).attr("y1", v).attr("y2", v);
});

// indicator level lines
function drawLevels(levels, yScale) {
  levels.forEach(function(l) {
    svg.append("line").attr("x1", 252).attr("x2", 3259).attr("y1", yScale(l)).attr("y2", yScale(l))
      .attr("stroke", "#bdbdbd").attr("stroke-width", 2).attr("stroke-dasharray", "3,6");
  });
}
drawLevels(rsiLevels, yRsi);
drawLevels(cciLevels, yCci);
drawLevels(stochLevels, yStoch);

drawLine(svg, rsiBars, rsiValues, yRsi, "#1e90ff", 1.9);
drawLine(svg, cciBars, cciValues, yCci, "#20b2aa", 1.7);
drawLine(svg, dBars, dValues, yStoch, "#ff0000", 1.7, "6,5");
drawLine(svg, stochBars, stochK, yStoch, "#20b2aa", 1.7);

// axes
function styleAxis(g) {
  g.selectAll("line").attr("stroke", orange).attr("stroke-width", 2);
  g.selectAll("text").attr("fill", orange).style("font-size", "18px");
}
var priceAxis = svg.append("g").attr("transform", "translate(3260,0)")
  .call(d3.axisRight(y).tickValues(priceTicks).tickSize(9).tickPadding(3).tickFormat(d3.format(".1f")));
styleAxis(priceAxis);

function indicatorAxis(ticks, yScale, shifts) {
  var g = svg.append("g").attr("transform", "translate(3260,0)")
    .call(d3.axisRight(yScale).tickValues(ticks).tickSize(7).tickPadding(4).tickFormat(d3.format(".2f")));
  styleAxis(g);
  g.selectAll("text").attr("dy", function(d) { return (shifts[d] || 0) + 6; });
}
indicatorAxis(rsiTicks, yRsi, {100: 9, 0: -11});
indicatorAxis(cciTicks, yCci, {436.22: 10, "-393.11": -9});
indicatorAxis(stochTicks, yStoch, {100: 12, 0: -13});

var timeAxis = svg.append("g").attr("transform", "translate(0,1950)")
  .call(d3.axisBottom(x).tickValues(timeLabels.map(function(d, i) { return i * 16; }))
    .tickSize(8).tickPadding(4).tickFormat(function(d) { return timeLabels[d / 16]; }));
styleAxis(timeAxis);
timeAxis.selectAll("text").attr("text-anchor", "start").attr("x", -2).attr("y", 12);

// last price tag
svg.append("rect").attr("x", 3265.5).attr("y", 864).attr("width", 66.5).attr("height", 21).attr("fill", "#778899");
svg.append("text").attr("x", 3271).attr("y", 881).attr("fill", "#fff").style("font-size", "18px").text("7649.4");

// window labels
function label(txt, lx, ly, len) {
  svg.append("text").attr("x", lx).attr("y", ly).attr("fill", orange).style("font-size", "17px")
    .attr("textLength", len).attr("lengthAdjust", "spacingAndGlyphs").text(txt);
}
label("SPX500Roll, H1:  S&P 500 Cash Index CFD", 340.5, 537, 358);
label("RSI(14) 32.07", 255, 1649, 114);
label("CCI(14) -88.85", 255, 1767, 124);
svg.append("rect").attr("x", 252).attr("y", 1870).attr("width", 202).attr("height", 26).attr("fill", "#fff");
label("Stoch(5,3,3) 27.45 18.42", 256, 1893, 200);

// header icons
var icons = svg.append("g").attr("fill", "none").attr("stroke-width", 2);
icons.append("rect").attr("x", 259).attr("y", 520).attr("width", 28).attr("height", 21).attr("rx", 2).attr("stroke", "#2a7ab0");
[525, 530.5, 536].forEach(function(v) {
  icons.append("line").attr("x1", 262).attr("x2", 272).attr("y1", v).attr("y2", v).attr("stroke", "#e84c3c");
  icons.append("line").attr("x1", 274).attr("x2", 284).attr("y1", v).attr("y2", v).attr("stroke", "#2a7ab0");
});
icons.append("path").attr("d", "M301,541 L301,521 L309,521 L309,532 L314,541 Z").attr("stroke", "#e84c3c");
icons.append("path").attr("d", "M318,541 L318,530 L324,530 L324,520 L329,520 L329,541 Z").attr("stroke", "#2a7ab0");
icons.append("rect").attr("x", 311).attr("y", 521).attr("width", 8).attr("height", 7).attr("stroke", "#999");

// one click trading panel
var panel = svg.append("g");
panel.append("rect").attr("x", 257).attr("y", 552).attr("width", 86).attr("height", 44).attr("fill", "url(#tile)");
panel.append("rect").attr("x", 538.5).attr("y", 552).attr("width", 86.5).attr("height", 44).attr("fill", "url(#tile)");
panel.append("rect").attr("x", 257).attr("y", 595).attr("width", 182).attr("height", 68).attr("fill", "url(#tile2)");
panel.append("rect").attr("x", 444).attr("y", 595).attr("width", 181).attr("height", 68).attr("fill", "url(#tile2)");
panel.append("rect").attr("x", 349).attr("y", 552).attr("width", 184).attr("height", 37).attr("fill", "#efefef").attr("stroke", "#cfcfcf");
panel.append("rect").attr("x", 385).attr("y", 552).attr("width", 111).attr("height", 37).attr("fill", "#fff").attr("stroke", "#b5b5b5").attr("stroke-width", 1.5);
panel.append("path").attr("d", "M361,567 L373,567 L367,575 Z").attr("fill", "#111");
panel.append("path").attr("d", "M508,575 L520,575 L514,567 Z").attr("fill", "#111");
panel.append("line").attr("x1", 265).attr("x2", 335).attr("y1", 595).attr("y2", 595).attr("stroke", "#8a90f0").attr("stroke-width", 2);
panel.append("line").attr("x1", 546).attr("x2", 617).attr("y1", 595).attr("y2", 595).attr("stroke", "#8a90f0").attr("stroke-width", 2);

function tileText(txt, tx, ty, size, len, color) {
  panel.append("text").attr("x", tx).attr("y", ty).attr("fill", color || "#fff").style("font-size", size + "px")
    .attr("textLength", len).attr("lengthAdjust", "spacingAndGlyphs").text(txt);
}
tileText("SELL", 275, 581, 25, 47);
tileText("BUY", 558, 581, 25, 44);
tileText("1.00", 449, 581, 25, 40, "#111");
tileText("7649", 286, 652, 25, 55);
tileText(".", 349, 652, 25, 6);
tileText("4", 360, 652, 60, 33);
tileText("7650", 472, 652, 25, 54);
tileText(".", 536, 652, 25, 6);
tileText("4", 547, 652, 60, 33);

// disclaimer
var disclaimerLines = [
  "本文件所载内容、观点或声明仅供参考，不构成任何招揽、投资建议或要约承诺，本公司亦不保证其准确性或完整性。",
  "对于因使用本文件或依赖其内容而导致的任何直接或间接损失或损害，本公司概不承担任何责任。金融产品属复杂工具，具有高风",
  "险，可能导致资金重大损失。强烈建议阁下在作出任何投资决定前，务必寻求具备相关资质的独立专业财务顾问意见。"
];
var cjk = "'Noto Sans CJK SC'";
svg.append("text").attr("x", 252).attr("y", 2127).attr("fill", "#ff7310")
  .style("font-family", cjk).style("font-weight", 700).style("font-size", "54px").text("免责声明：");
disclaimerLines.forEach(function(t, i) {
  svg.append("text").attr("x", i === 0 ? 522 : 252).attr("y", 2127 + i * 63).attr("fill", "#f2f4fa")
    .style("font-family", cjk).style("font-size", "54px").text(t);
});
</script>
</body>
</html>
